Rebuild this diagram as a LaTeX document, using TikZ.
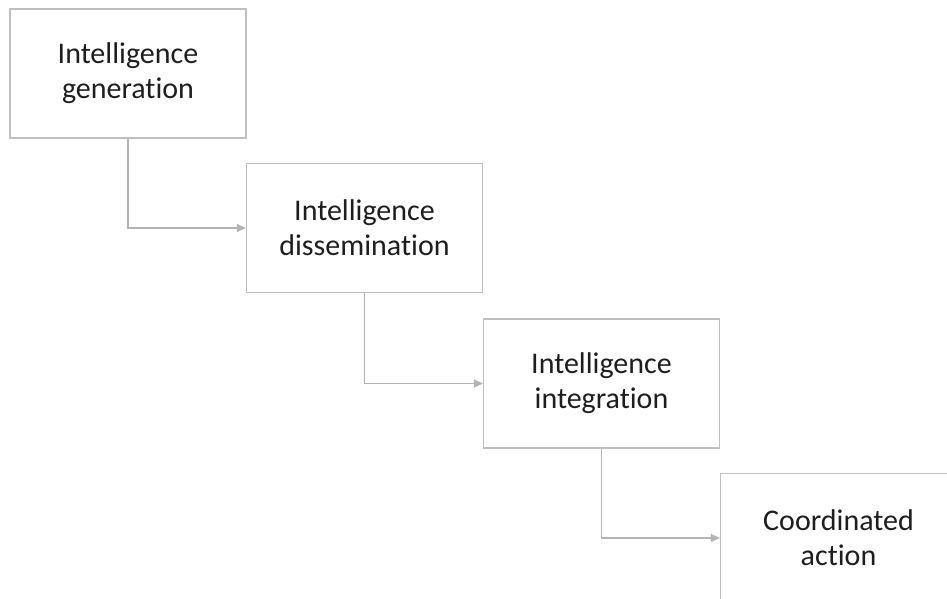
\documentclass[tikz,border=0pt]{standalone}
\usepackage{fontspec}
\setmainfont[Ligatures=NoCommon]{Carlito}
\usetikzlibrary{arrows.meta}
\definecolor{boxline}{HTML}{BFBFBF}
\definecolor{linkline}{HTML}{B4B4B4}
\definecolor{labeltext}{HTML}{1E1E1E}
\begin{document}
\begin{tikzpicture}[x=1pt,y=-1pt,
  stage/.style={draw=boxline, line width=1.1pt, fill=white, minimum width=236pt,
    minimum height=129pt, inner sep=0pt, align=center, text=labeltext,
    font=\fontsize{30}{35}\selectfont},
  link/.style={draw=linkline, line width=1.1pt,
    -{Triangle[length=9pt,width=8pt]}}]
\clip (0,0) rectangle (947,599);
\fill[white] (0,0) rectangle (947,599);
\node[stage] (gen) at (128,73.5) {Intelligence\\generation};
\node[stage] (dis) at (364.5,228) {Intelligence\\dissemination};
\node[stage] (int) at (601.5,383.5) {Intelligence\\integration};
\node[stage] (act) at (838.5,538) {Coordinated\\action};
\draw[link] (gen.south) |- (dis.west);
\draw[link] (dis.south) |- (int.west);
\draw[link] (int.south) |- (act.west);
\end{tikzpicture}
\end{document}
